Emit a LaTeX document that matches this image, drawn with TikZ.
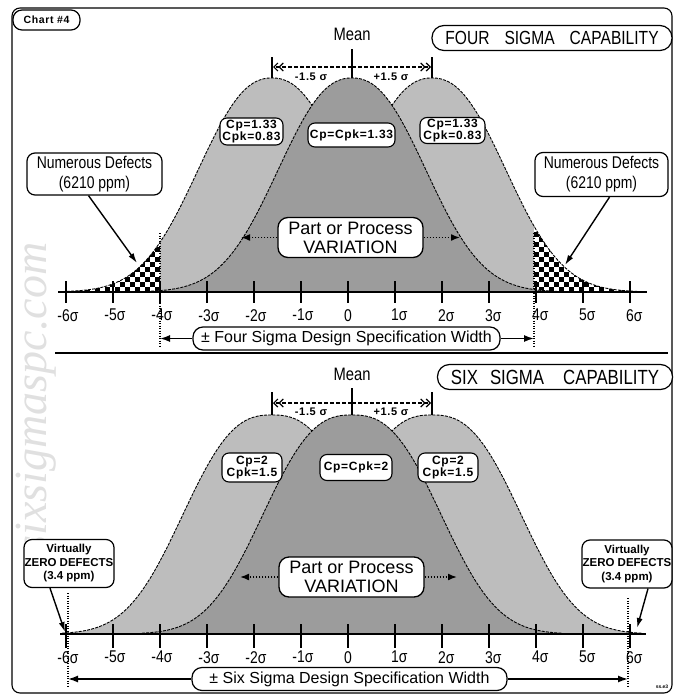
\documentclass[tikz,border=0pt]{standalone}
\usepackage{fontspec}
\setmainfont{Liberation Sans}
\newfontfamily\narrowfont{Liberation Sans}[FakeStretch=0.82]
\newfontfamily\tagfont{Liberation Sans}[LetterSpace=6]
\newfontfamily\markfont{Liberation Serif}
\usetikzlibrary{arrows.meta, positioning}

\tikzset{
  declare function={
    bellfour(\m,\x)=292-214*exp(-pow((abs(\x-\m)+0.01)/95,2.3));
    bellsix(\m,\x)=634-219*exp(-pow((abs(\x-\m)+0.01)/108,2.6));
  },
  sidebell/.style={fill=black!26},
  midbell/.style={fill=black!39},
  bellline/.style={line width=0.9pt, dash pattern=on 3pt off 1.2pt},
  capbox/.style={draw, line width=1.2pt, rounded corners=12pt, fill=white, inner sep=0pt, minimum height=25pt},
  cpbox/.style={draw, line width=1.1pt, rounded corners=7pt, fill=white, inner sep=1pt, align=center, font=\tagfont\bfseries\fontsize{12}{12}\selectfont},
  varybox/.style={draw, line width=1.3pt, rounded corners=10pt, fill=white, align=center, inner sep=0pt, minimum width=145pt, minimum height=40pt, font=\fontsize{18}{19}\selectfont},
  defbox/.style={draw, line width=1.2pt, rounded corners=8pt, fill=white, align=center, inner sep=0pt, font=\narrowfont\fontsize{17}{20}\selectfont},
  zerobox/.style={draw, line width=1.2pt, rounded corners=8pt, fill=white, align=center, inner sep=0pt, minimum width=90pt, minimum height=48pt, font=\bfseries\fontsize{11.5}{13.5}\selectfont},
  specbox/.style={draw, line width=1.2pt, rounded corners=10pt, fill=white, inner sep=0pt, minimum height=23pt, font=\fontsize{16}{18}\selectfont},
  meanlabel/.style={font=\narrowfont\fontsize{18}{20}\selectfont, inner sep=0pt},
  shiftlabel/.style={font=\tagfont\bfseries\fontsize{11}{12}\selectfont, inner sep=0pt},
  ticklabel/.style={font=\narrowfont\fontsize{17}{18}\selectfont, anchor=north, inner sep=0pt},
  shiftarrow/.style={line width=1.2pt, dash pattern=on 4pt off 2pt, -{Straight Barb[length=4pt,width=8pt] Straight Barb[length=4pt,width=8pt]}},
  varyarrow/.style={line width=1.6pt, dash pattern=on 1.5pt off 1.5pt, -{Latex[length=9pt,width=7pt]}},
  callout/.style={line width=1.4pt, -{Latex[length=10pt,width=6pt]}},
  specarrow/.style={line width=1.5pt, -{Latex[length=10pt,width=7pt]}},
  speclimit/.style={line width=1.1pt, dash pattern=on 1pt off 1.5pt},
  axisline/.style={line width=2.4pt},
  sigmatick/.style={line width=1.3pt},
  markline/.style={line width=1.4pt}
}

\begin{document}
\begin{tikzpicture}[x=1pt, y=-1pt]
    \useasboundingbox (0,0) rectangle (675,696);
    % frame, watermark and chart tag
    \draw[line width=1.1pt, rounded corners=8pt] (12,8) rectangle (672,693);
    \node[rotate=90, text=black!12, font=\markfont\itshape\fontsize{46}{46}\selectfont] (mark) at (36,398) {sixsigmaspc.com};
    \node[draw, line width=1.2pt, rounded corners=9pt, minimum width=67pt, minimum height=20pt, inner sep=0pt, font=\tagfont\bfseries\fontsize{10.5}{12}\selectfont] (chart) at (46.5,20) {Chart \#4};

    % ---------- four sigma panel ----------
    \begin{scope}
        \clip (160,0) rectangle (534,300);
        \fill[sidebell] plot[domain=67:477, samples=120] (\x,{bellfour(272,\x)}) -- cycle;
        \fill[sidebell] plot[domain=227:637, samples=120] (\x,{bellfour(432,\x)}) -- cycle;
    \end{scope}
    % defect tails
    \begin{scope}
        \clip plot[domain=67:477, samples=120] (\x,{bellfour(272,\x)}) -- cycle;
        \clip (55,200) rectangle (160,293);
        \fill[white] (55,200) rectangle (160,293);
        \foreach \i in {1,...,11} \foreach \j in {1,...,7} {
            \fill ({160-10*\i},{292-10*\j}) rectangle +(5,5);
            \fill ({165-10*\i},{297-10*\j}) rectangle +(5,5);
        }
    \end{scope}
    \begin{scope}
        \clip plot[domain=227:637, samples=120] (\x,{bellfour(432,\x)}) -- cycle;
        \clip (534,200) rectangle (645,293);
        \fill[white] (534,200) rectangle (645,293);
        \foreach \i in {1,...,11} \foreach \j in {1,...,7} {
            \fill ({524+10*\i},{292-10*\j}) rectangle +(5,5);
            \fill ({529+10*\i},{297-10*\j}) rectangle +(5,5);
        }
    \end{scope}
    \draw[bellline] plot[domain=67:477, samples=120] (\x,{bellfour(272,\x)});
    \draw[bellline] plot[domain=227:637, samples=120] (\x,{bellfour(432,\x)});
    \fill[midbell] plot[domain=147:557, samples=120] (\x,{bellfour(352,\x)}) -- cycle;
    \draw[bellline] plot[domain=147:557, samples=120] (\x,{bellfour(352,\x)});

    % axis
    \draw[axisline] (58,292) -- (647,292);
    \foreach \k in {-6,...,6} {
        \pgfmathtruncatemacro\absk{abs(\k)}
        \pgfmathtruncatemacro\idx{\k+6}
        \draw[sigmatick] ({348+47*\k},281) -- ({348+47*\k},303);
        \node[ticklabel] (fourtick\idx) at ({348+47*\k},309) {\ifnum\k<0 \llap{-}\fi\absk\ifnum\k=0 \else\rlap{σ}\fi};
    }

    % means and shifts
    \node[meanlabel] (meanA) at (352,34) {Mean};
    \coordinate (muA) at (352,49);
    \coordinate (peakA) at (352,78);
    \coordinate (muAL) at (272,57);
    \coordinate (peakAL) at (272,78);
    \coordinate (muAR) at (432,57);
    \coordinate (peakAR) at (432,78);
    \coordinate (shiftA) at (352,67);
    \coordinate (shiftAL) at (273,67);
    \coordinate (shiftAR) at (431,67);
    \draw[markline] (muA) -- (peakA);
    \draw[markline] (muAL) -- (peakAL);
    \draw[markline] (muAR) -- (peakAR);
    \draw[shiftarrow] (shiftA) -- (shiftAL);
    \draw[shiftarrow] (shiftA) -- (shiftAR);
    \node[shiftlabel] (minusA) at (311,77) {-1.5 σ};
    \node[shiftlabel] (plusA) at (391,77) {+1.5 σ};

    \node[capbox, minimum width=240pt, font=\narrowfont\fontsize{19}{22}\selectfont] (four) at (552,38) {FOUR\hspace{15pt}SIGMA\hspace{15pt}CAPABILITY};

    % capability tags
    \node[cpbox, minimum width=63pt, minimum height=27pt] (cpA1) at (251.5,131.5) {Cp=1.33\\Cpk=0.83};
    \node[cpbox, minimum width=87pt, minimum height=24pt] (cpA2) at (351.5,135) {Cp=Cpk=1.33};
    \node[cpbox, minimum width=65pt, minimum height=26pt] (cpA3) at (452.5,130.5) {Cp=1.33\\Cpk=0.83};

    % variation
    \node[varybox] (varyA) at (350.5,237.5) {Part or Process\\VARIATION};
    \coordinate (varyAL) at (241,237.5);
    \coordinate (varyAR) at (460,237.5);
    \draw[varyarrow] (varyA.west) -- (varyAL);
    \draw[varyarrow] (varyA.east) -- (varyAR);

    % defects
    \node[defbox, minimum width=135pt, minimum height=42pt] (defA1) at (94.5,174) {Numerous Defects\\(6210 ppm)};
    \node[defbox, minimum width=133pt, minimum height=44pt] (defA2) at (601.5,174.5) {Numerous Defects\\(6210 ppm)};
    \coordinate (tailA1) at (137,263);
    \coordinate (tailA2) at (565,265);
    \draw[callout] ([xshift=-6pt]defA1.south) -- (tailA1);
    \draw[callout] ([xshift=8pt]defA2.south) -- (tailA2);

    % specification width
    \coordinate (lslAtop) at (160,233);
    \coordinate (lslAbot) at (160,348);
    \coordinate (uslAtop) at (534,233);
    \coordinate (uslAbot) at (534,348);
    \draw[speclimit] (lslAtop) -- (lslAbot);
    \draw[speclimit] (uslAtop) -- (uslAbot);
    \node[specbox, minimum width=307pt] (specA) at (346.5,338.5) {± Four Sigma Design Specification Width};
    \coordinate (specAL) at (160,338.5);
    \coordinate (specAR) at (534,338.5);
    \draw[specarrow] (specA.west) -- (specAL);
    \draw[specarrow] (specA.east) -- (specAR);

    \draw[line width=1.5pt] (55,353) -- (668,353);

    % ---------- six sigma panel ----------
    \fill[sidebell] plot[domain=62:482, samples=120] (\x,{bellsix(272,\x)}) -- cycle;
    \fill[sidebell] plot[domain=222:642, samples=120] (\x,{bellsix(432,\x)}) -- cycle;
    \draw[bellline] plot[domain=62:482, samples=120] (\x,{bellsix(272,\x)});
    \draw[bellline] plot[domain=222:642, samples=120] (\x,{bellsix(432,\x)});
    \fill[midbell] plot[domain=142:562, samples=120] (\x,{bellsix(352,\x)}) -- cycle;
    \draw[bellline] plot[domain=142:562, samples=120] (\x,{bellsix(352,\x)});

    % axis
    \draw[axisline] (60,634) -- (646,634);
    \foreach \k in {-6,...,6} {
        \pgfmathtruncatemacro\absk{abs(\k)}
        \pgfmathtruncatemacro\idx{\k+6}
        \draw[sigmatick] ({348+47*\k},624) -- ({348+47*\k},648);
        \node[ticklabel] (sixtick\idx) at ({348+47*\k},651) {\ifnum\k<0 \llap{-}\fi\absk\ifnum\k=0 \else\rlap{σ}\fi};
    }

    % means and shifts
    \node[meanlabel] (meanB) at (352,374) {Mean};
    \coordinate (muB) at (352,388);
    \coordinate (peakB) at (352,415);
    \coordinate (muBL) at (272,392);
    \coordinate (peakBL) at (272,415);
    \coordinate (muBR) at (432,392);
    \coordinate (peakBR) at (432,415);
    \coordinate (shiftB) at (352,403);
    \coordinate (shiftBL) at (273,403);
    \coordinate (shiftBR) at (431,403);
    \draw[markline] (muB) -- (peakB);
    \draw[markline] (muBL) -- (peakBL);
    \draw[markline] (muBR) -- (peakBR);
    \draw[shiftarrow] (shiftB) -- (shiftBL);
    \draw[shiftarrow] (shiftB) -- (shiftBR);
    \node[shiftlabel] (minusB) at (311,412) {-1.5 σ};
    \node[shiftlabel] (plusB) at (391,412) {+1.5 σ};

    \node[capbox, minimum width=235pt, font=\narrowfont\fontsize{20.5}{22}\selectfont] (six) at (555,377) {SIX\hspace{12pt}SIGMA\hspace{19pt}CAPABILITY};

    % capability tags
    \node[cpbox, minimum width=60pt, minimum height=29pt] (cpB1) at (252,467.5) {Cp=2\\Cpk=1.5};
    \node[cpbox, minimum width=72pt, minimum height=26pt] (cpB2) at (356,467.5) {Cp=Cpk=2};
    \node[cpbox, minimum width=60pt, minimum height=29pt] (cpB3) at (448,467.5) {Cp=2\\Cpk=1.5};

    % variation
    \node[varybox] (varyB) at (351.5,577) {Part or Process\\VARIATION};
    \coordinate (varyBL) at (240,577);
    \coordinate (varyBR) at (457,577);
    \draw[varyarrow] (varyB.west) -- (varyBL);
    \draw[varyarrow] (varyB.east) -- (varyBR);

    % defects
    \node[zerobox] (zeroB1) at (69,563.5) {Virtually\\ZERO DEFECTS\\(3.4 ppm)};
    \node[zerobox] (zeroB2) at (627,564) {Virtually\\ZERO DEFECTS\\(3.4 ppm)};
    \coordinate (tailB1) at (65,632);
    \coordinate (tailB2) at (637,628);
    \draw[callout] ([xshift=-19pt]zeroB1.south) -- (tailB1);
    \draw[callout] ([xshift=21pt]zeroB2.south) -- (tailB2);

    % specification width
    \coordinate (lslBtop) at (68,593);
    \coordinate (lslBbot) at (68,688);
    \coordinate (uslBtop) at (628,598);
    \coordinate (uslBbot) at (628,688);
    \draw[speclimit] (lslBtop) -- (lslBbot);
    \draw[speclimit] (uslBtop) -- (uslBbot);
    \node[specbox, minimum width=315pt] (specB) at (349.5,679) {± Six Sigma Design Specification Width};
    \coordinate (specBL) at (68,679);
    \coordinate (specBR) at (628,679);
    \draw[specarrow] (specB.west) -- (specBL);
    \draw[specarrow] (specB.east) -- (specBR);

    \node[font=\bfseries\fontsize{5}{6}\selectfont, inner sep=0pt] (code) at (662,687) {ss.e3};
\end{tikzpicture}
\end{document}
